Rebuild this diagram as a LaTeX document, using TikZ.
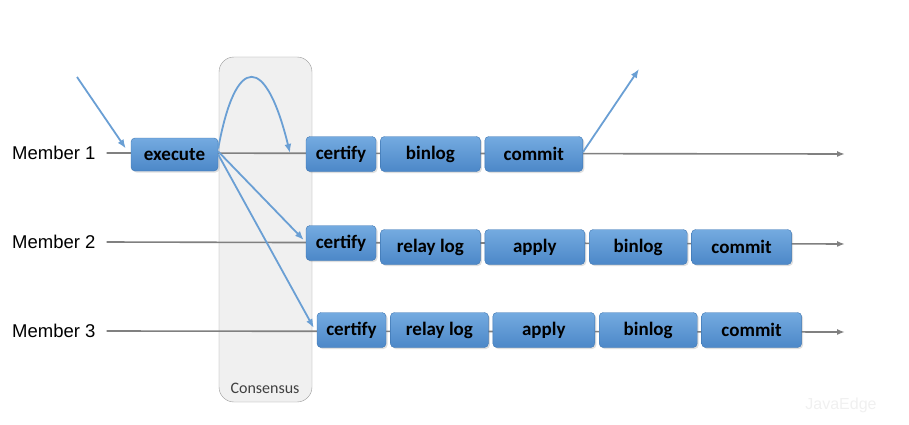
\documentclass[tikz,border=0pt]{standalone}
\usepackage{fontspec}
\setmainfont{Carlito}
\newfontfamily\labelfont{Liberation Sans}
\usepackage{tikz}
\usetikzlibrary{positioning,arrows.meta,shadows}

\definecolor{boxtop}{HTML}{74AAE0}
\definecolor{boxbot}{HTML}{4C88C8}
\definecolor{boxline}{HTML}{3E76B2}
\definecolor{flowblue}{HTML}{6A9FD4}
\definecolor{lanegray}{HTML}{808080}

\begin{document}
\begin{tikzpicture}[
  x=1pt, y=-1pt,
  node distance=4pt,
  stage/.style={draw=boxline, rounded corners=4pt, top color=boxtop, bottom color=boxbot,
    minimum height=35pt, minimum width=100pt, inner sep=2pt,
    font=\fontsize{19}{22}\selectfont\bfseries,
    drop shadow={opacity=0.25, shadow xshift=1.5pt, shadow yshift=-1.5pt}},
  cert/.style={stage, minimum width=70pt},
  member/.style={anchor=west, inner sep=0pt, font=\labelfont\fontsize{18.5}{21}\selectfont},
  lane/.style={draw=lanegray, line width=1.6pt, -{Latex[length=8pt,width=6pt]}},
  flow/.style={draw=flowblue, line width=1.8pt, -{Latex[length=9pt,width=7pt]}}
]
  \useasboundingbox (0,0) rectangle (909,425);

  % consensus column
  \node[draw=gray!80, fill=gray!12, rounded corners=15pt, minimum width=93pt,
        minimum height=345pt] (cons) at (265.5,229.5) {};
  \node[font=\fontsize{16}{18}\selectfont, text=black!75] (conslbl) at (265,388) {Consensus};

  % members and lanes
  \node[member] (m1) at (12,153) {Member 1};
  \node[member] (m2) at (12,242) {Member 2};
  \node[member] (m3) at (12,331) {Member 3};
  \coordinate (e1) at (845,154);
  \coordinate (e2) at (845,244);
  \coordinate (e3) at (845,332);
  \draw[lane] (m1.east) ++(11,0) -- (e1);
  \draw[lane] (m2.east) ++(11,0) -- (e2);
  \draw[lane] (m3.east) ++(11,0) -- (e3);

  % member 1
  \node[stage, minimum width=87pt, minimum height=33pt] (exe) at (174.5,154.5) {execute};
  \node[cert] (r1a) at (341,154) {certify};
  \node[stage, right=of r1a] (r1b) {binlog};
  \node[stage, minimum width=98pt, right=of r1b] (r1c) {commit};

  % member 2
  \node[cert] (r2a) at (341,243) {certify};
  \node[stage, right=of r2a, yshift=-4pt] (r2b) {relay log};
  \node[stage, right=of r2b] (r2c) {apply};
  \node[stage, minimum width=98pt, right=of r2c] (r2d) {binlog};
  \node[stage, right=of r2d] (r2e) {commit};

  % member 3
  \node[cert, minimum width=69pt] (r3a) at (351.5,330) {certify};
  \node[stage, minimum width=98pt, right=of r3a] (r3b) {relay log};
  \node[stage, minimum width=102pt, right=of r3b] (r3c) {apply};
  \node[stage, minimum width=98pt, right=of r3c] (r3d) {binlog};
  \node[stage, right=of r3d] (r3e) {commit};

  % messages
  \coordinate (in) at (77,77);
  \coordinate (back) at (290,153);
  \coordinate (out) at (639,69);
  \draw[flow] (in) -- ([xshift=-5pt,yshift=6pt]exe.west);
  \draw[flow] ([yshift=6pt]exe.east) .. controls (236,52) and (266,55) .. (back);
  \draw[flow] ([yshift=3pt]exe.east) -- ([xshift=-2pt,yshift=3pt]r2a.west);
  \draw[flow] (exe.east) -- ([xshift=-3pt,yshift=2pt]r3a.west);
  \draw[flow] ([yshift=2pt]r1c.east) -- (out);

  \node[font=\labelfont\fontsize{16}{18}\selectfont, text=gray!12] (mark) at (841,405) {JavaEdge};
\end{tikzpicture}
\end{document}
